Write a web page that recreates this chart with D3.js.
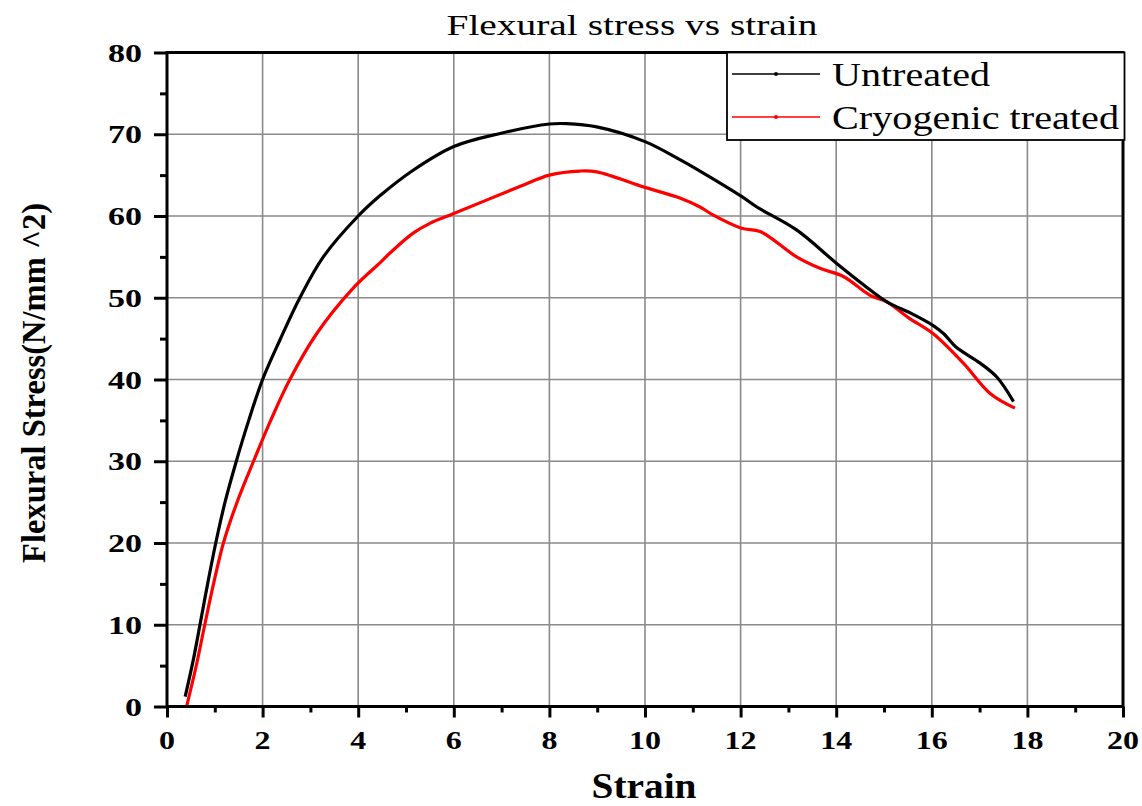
<!DOCTYPE html>
<html>
<head>
<meta charset="utf-8">
<script src="https://cdn.jsdelivr.net/npm/d3@7"></script>
<style>
  html, body { margin: 0; padding: 0; background: #fff; }
  svg { display: block; }
</style>
</head>
<body>
<svg id="chart" width="1142" height="806"></svg>
<script>
// ---------- data ----------
const chartTitle = "Flexural stress vs strain";
const xAxisTitle = "Strain";
const yAxisTitle = "Flexural Stress(N/mm ^2)";
const seriesNames = ["Untreated", "Cryogenic treated"];
const seriesColors = ["#000000", "#ff0000"];

const strainUntreated = [0.38, 0.55, 0.69, 0.85, 1.02, 1.21, 1.45, 1.71, 2.0, 2.36, 2.78, 3.27, 4.0, 4.46, 5.15, 6.0, 6.97, 8.0, 8.36, 8.99, 10.0, 10.73, 11.15, 12.02, 12.34, 13.17, 14.01, 14.57, 15.06, 15.6, 16.03, 16.25, 16.5, 17.01, 17.36, 17.71];
const stressUntreated = [1.2, 5.7, 10, 15.0, 20, 24.9, 30, 35.0, 40, 44.8, 50, 55.0, 60, 62.5, 65.6, 68.5, 70.1, 71.25, 71.3, 70.9, 69.1, 66.9, 65.5, 62.4, 61.1, 58.3, 54.2, 51.6, 49.5, 48.0, 46.6, 45.6, 44.0, 42.0, 40.3, 37.3];

const strainCryo = [0.41, 0.62, 0.79, 0.97, 1.18, 1.46, 1.81, 2.17, 2.57, 3.13, 3.9, 4.46, 4.67, 5.15, 5.5, 6.0, 7.38, 8.0, 8.64, 8.99, 10.0, 10.73, 11.15, 11.43, 12.02, 12.41, 13.17, 13.66, 14.15, 14.71, 15.06, 15.5, 16.03, 16.66, 17.22, 17.74];
const stressCryo = [0.0, 5.2, 10, 14.9, 20, 24.9, 30, 35.0, 40, 45.6, 51.2, 54.3, 55.5, 57.9, 59.1, 60.3, 63.6, 65.0, 65.5, 65.4, 63.5, 62.2, 61.1, 60.1, 58.5, 58.1, 55.0, 53.6, 52.6, 50.3, 49.5, 47.6, 45.6, 42.0, 38.3, 36.5];

const xTicks = [0, 2, 4, 6, 8, 10, 12, 14, 16, 18, 20];
const yTicks = [0, 10, 20, 30, 40, 50, 60, 70, 80];
const xMinorTicks = [1, 3, 5, 7, 9, 11, 13, 15, 17, 19];
const yMinorTicks = [5, 15, 25, 35, 45, 55, 65, 75];

// ---------- layout ----------
const svg = d3.select("#chart");
const L = 167, R = 1123, T = 52.5, B = 706.5;
const serif = "'Liberation Serif', 'Times New Roman', Tinos, serif";

const x = d3.scaleLinear().domain([0, 20]).range([L, R]);
const y = d3.scaleLinear().domain([0, 80]).range([B, T]);

// gridlines
const grid = svg.append("g");
grid.selectAll("line.gx").data(xTicks.filter(d => d > 0 && d < 20)).join("line")
  .attr("x1", d => x(d)).attr("x2", d => x(d)).attr("y1", T).attr("y2", B)
  .attr("stroke", "#8a8a8a").attr("stroke-width", 1.6);
grid.selectAll("line.gy").data(yTicks.filter(d => d > 0 && d < 80)).join("line")
  .attr("x1", L).attr("x2", R).attr("y1", d => y(d)).attr("y2", d => y(d))
  .attr("stroke", "#8a8a8a").attr("stroke-width", 1.6);

// series
const line = d3.line().curve(d3.curveCatmullRom.alpha(0.5)).x(d => x(d[0])).y(d => y(d[1]));
const dataU = strainUntreated.map((s, i) => [s, stressUntreated[i]]);
const dataC = strainCryo.map((s, i) => [s, stressCryo[i]]);
svg.append("path").datum(dataC).attr("d", line).attr("fill", "none")
  .attr("stroke", seriesColors[1]).attr("stroke-width", 3.2).attr("stroke-linejoin", "round");
svg.append("path").datum(dataU).attr("d", line).attr("fill", "none")
  .attr("stroke", seriesColors[0]).attr("stroke-width", 3.2).attr("stroke-linejoin", "round");

// axes
const xAxis = d3.axisBottom(x).tickValues(xTicks).tickSize(11).tickFormat("");
const yAxis = d3.axisLeft(y).tickValues(yTicks).tickSize(13).tickFormat("");
const gx = svg.append("g").attr("transform", `translate(0,${B})`).call(xAxis);
const gy = svg.append("g").attr("transform", `translate(${L},0)`).call(yAxis);
[gx, gy].forEach(g => {
  g.select(".domain").remove();
  g.selectAll(".tick line").attr("stroke", "#000").attr("stroke-width", 3);
});
svg.append("g").attr("transform", `translate(0,${B})`)
  .call(d3.axisBottom(x).tickValues(xMinorTicks).tickSize(6).tickFormat(""))
  .call(g => g.select(".domain").remove())
  .selectAll(".tick line").attr("stroke", "#000").attr("stroke-width", 3);
svg.append("g").attr("transform", `translate(${L},0)`)
  .call(d3.axisLeft(y).tickValues(yMinorTicks).tickSize(7).tickFormat(""))
  .call(g => g.select(".domain").remove())
  .selectAll(".tick line").attr("stroke", "#000").attr("stroke-width", 3);

// frame
svg.append("rect").attr("x", L).attr("y", T).attr("width", R - L).attr("height", B - T)
  .attr("fill", "none").attr("stroke", "#000").attr("stroke-width", 3);

// tick labels
svg.append("g").selectAll("text").data(xTicks).join("text")
  .attr("x", d => x(d)).attr("y", 749)
  .attr("text-anchor", "middle").attr("font-family", serif).attr("font-weight", "bold")
  .attr("font-size", 26).attr("textLength", d => String(d).length * 16)
  .attr("lengthAdjust", "spacingAndGlyphs").text(d => d);
svg.append("g").selectAll("text").data(yTicks).join("text")
  .attr("x", 142).attr("y", d => y(d) + 9)
  .attr("text-anchor", "end").attr("font-family", serif).attr("font-weight", "bold")
  .attr("font-size", 26).attr("textLength", d => String(d).length * 17)
  .attr("lengthAdjust", "spacingAndGlyphs").text(d => d);

// titles
svg.append("text").attr("x", 632).attr("y", 35).attr("text-anchor", "middle")
  .attr("font-family", serif).attr("font-size", 30)
  .attr("textLength", 371).attr("lengthAdjust", "spacingAndGlyphs").text(chartTitle);
svg.append("text").attr("x", 644).attr("y", 798).attr("text-anchor", "middle")
  .attr("font-family", serif).attr("font-weight", "bold").attr("font-size", 35)
  .attr("textLength", 105).attr("lengthAdjust", "spacingAndGlyphs").text(xAxisTitle);
svg.append("text").attr("transform", "translate(45,383) rotate(-90)").attr("text-anchor", "middle")
  .attr("font-family", serif).attr("font-weight", "bold").attr("font-size", 33)
  .attr("textLength", 360).attr("lengthAdjust", "spacingAndGlyphs").text(yAxisTitle);

// legend
const lg = svg.append("g");
lg.append("rect").attr("x", 727).attr("y", T).attr("width", R + 1.5 - 727).attr("height", 140 - T)
  .attr("fill", "#fff").attr("stroke", "#000").attr("stroke-width", 1.8);
const legendY = [74, 117];
const legendW = [158, 287];
seriesNames.forEach((name, i) => {
  lg.append("line").attr("x1", 732).attr("x2", 820).attr("y1", legendY[i]).attr("y2", legendY[i])
    .attr("stroke", seriesColors[i]).attr("stroke-width", 1.4);
  lg.append("circle").attr("cx", 776).attr("cy", legendY[i]).attr("r", 2).attr("fill", seriesColors[i]);
  lg.append("text").attr("x", 832).attr("y", legendY[i] + 12)
    .attr("font-family", serif).attr("font-size", 34)
    .attr("textLength", legendW[i]).attr("lengthAdjust", "spacingAndGlyphs").text(name);
});
</script>
</body>
</html>
